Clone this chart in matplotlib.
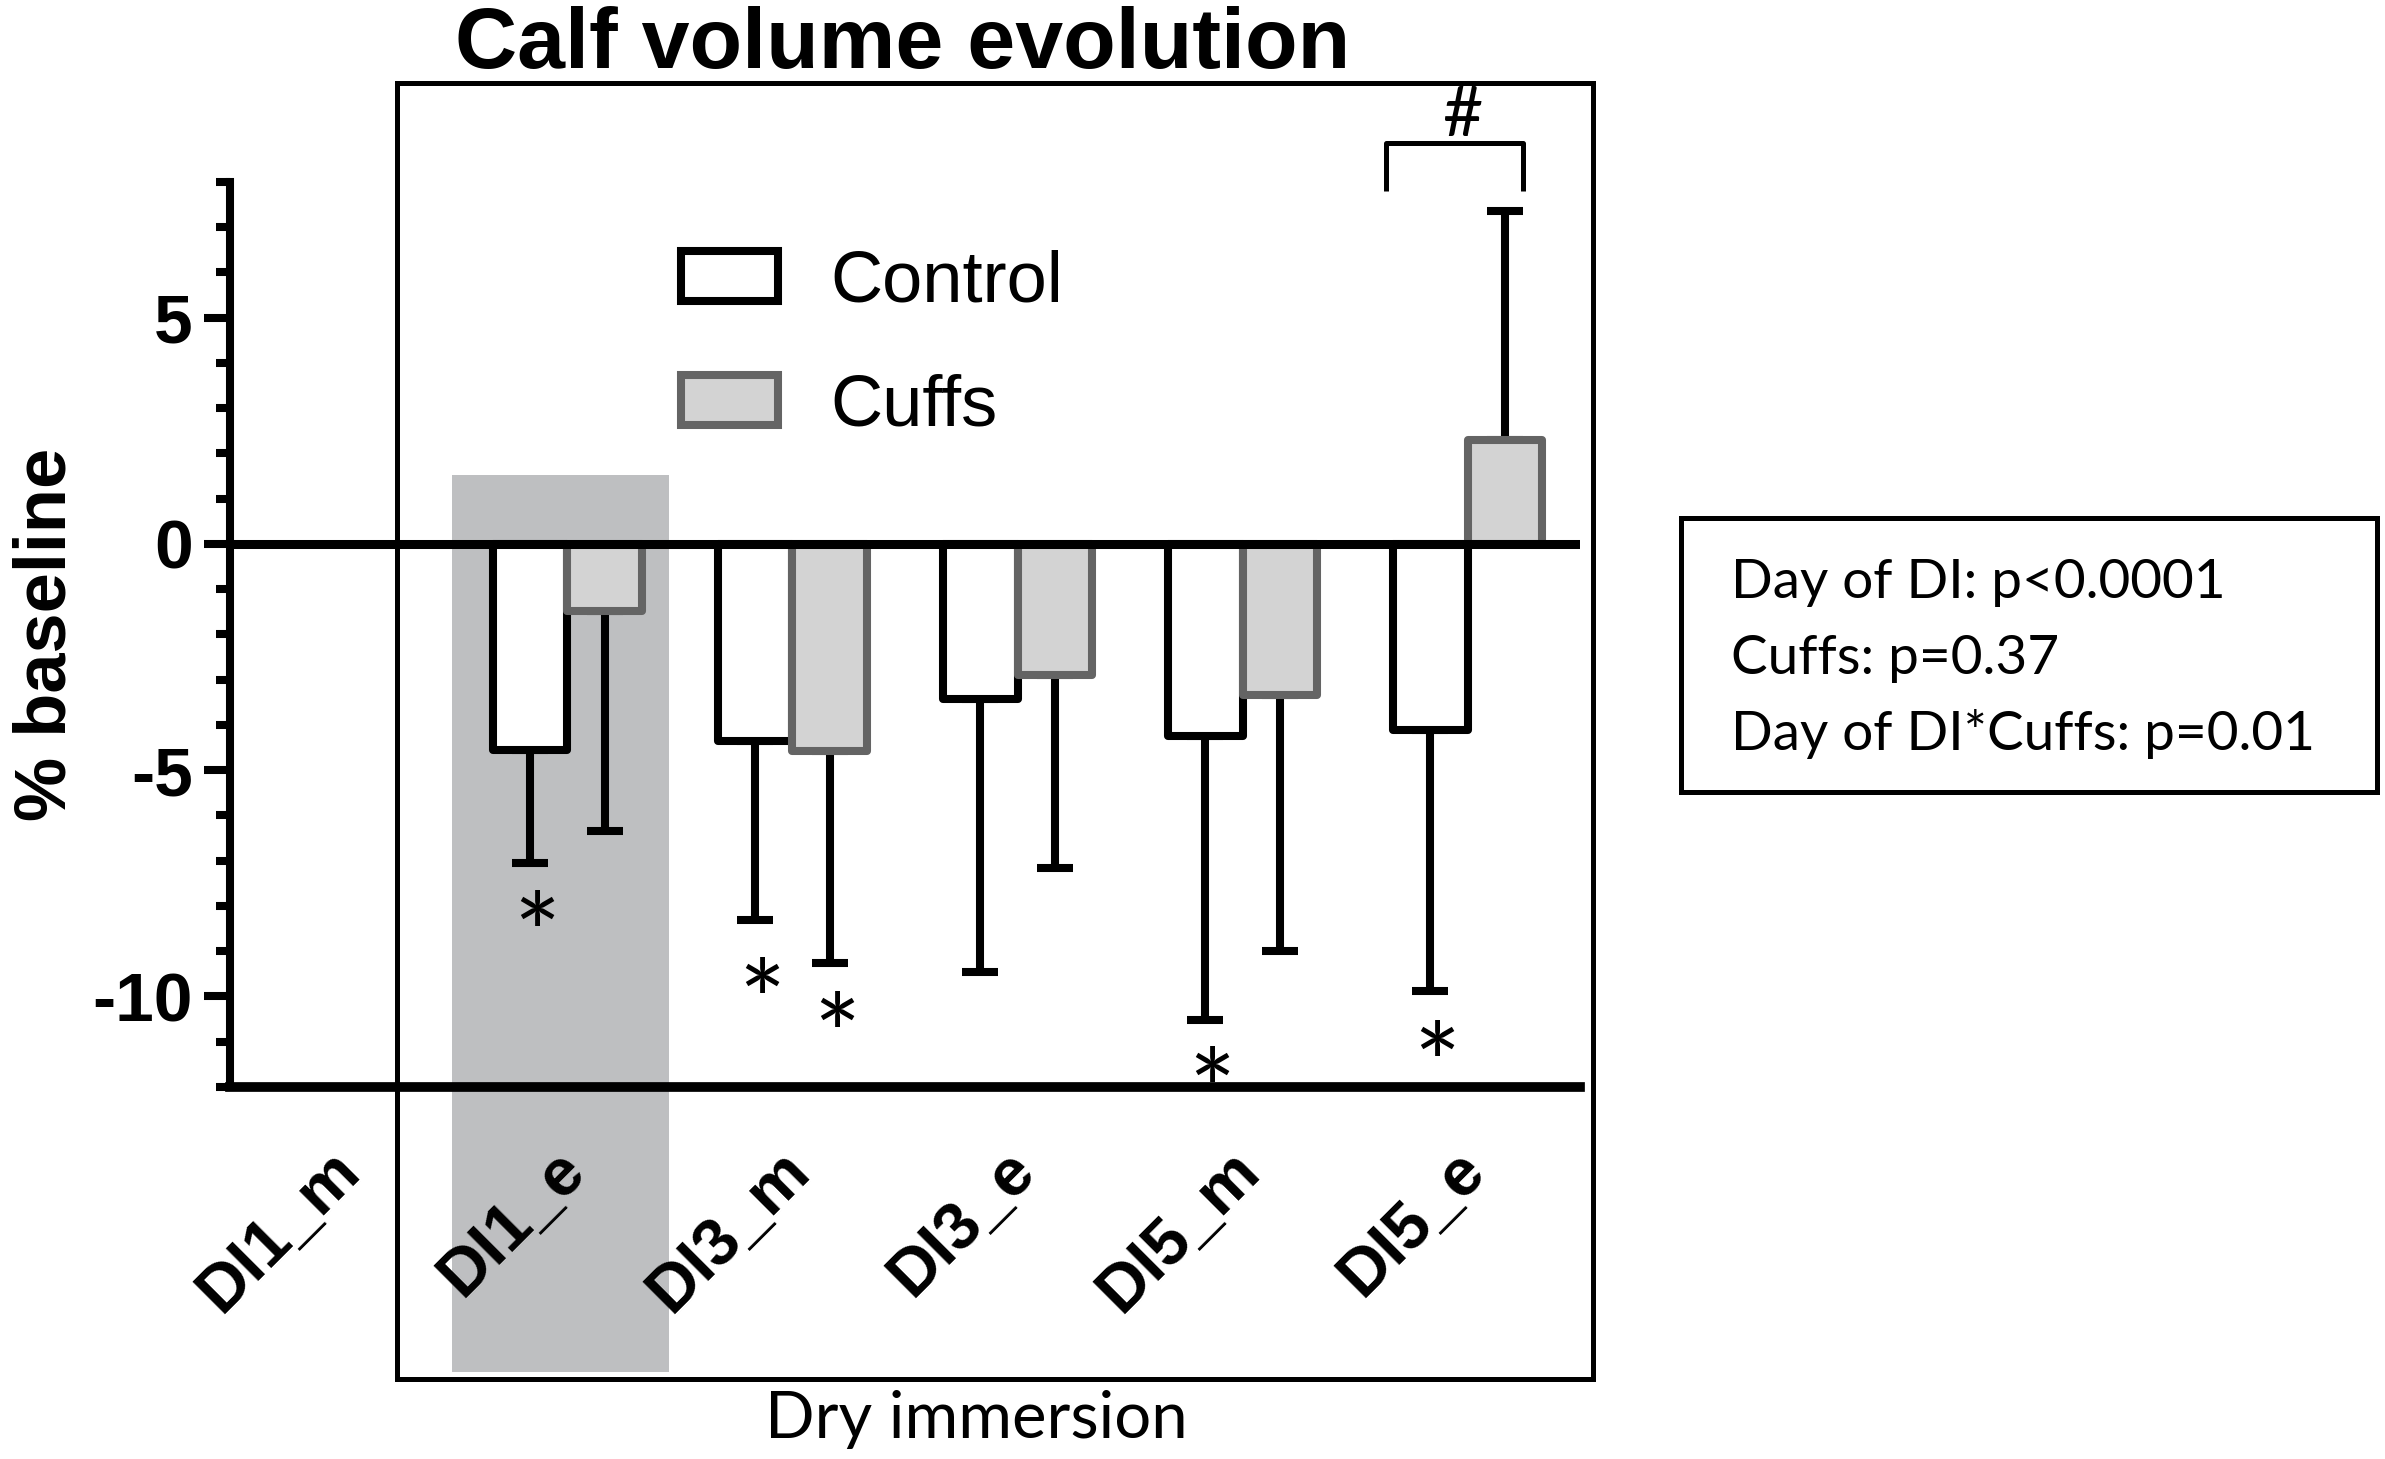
import matplotlib
matplotlib.use("Agg")
import matplotlib.pyplot as plt
import numpy as np
from matplotlib.patches import Rectangle
from matplotlib.ticker import MultipleLocator
from matplotlib.transforms import ScaledTranslation

# data (% of baseline, mean and SD)
days = ["DI1_m", "DI1_e", "DI3_m", "DI3_e", "DI5_m", "DI5_e"]
control_mean = [np.nan, -4.55, -4.35, -3.42, -4.24, -4.11]
control_sd = [np.nan, 2.49, 3.95, 6.04, 6.29, 5.76]
cuffs_mean = [np.nan, -1.49, -4.57, -2.89, -3.33, 2.30]
cuffs_sd = [np.nan, 4.86, 4.69, 4.28, 5.66, 5.05]

# "*" marks (vs baseline): which day, which group, and height of the mark
star_day = ["DI1_e", "DI3_m", "DI3_m", "DI5_m", "DI5_e"]
star_group = ["Control", "Control", "Cuffs", "Control", "Control"]
star_y = [-8.09, -9.57, -10.31, -11.52, -10.95]

stats_lines = ["Day of DI: p<0.0001", "Cuffs: p=0.37", "Day of DI*Cuffs: p=0.01"]

plt.rcParams["font.family"] = ["Liberation Sans", "DejaVu Sans"]
plt.rcParams["axes.unicode_minus"] = False

fig = plt.figure(figsize=(23.85, 14.59), dpi=100)
ax = fig.add_axes([0.0964, 0.2550, 0.5661, 0.6203])
ax.patch.set_visible(False)

# shaded DI1_e column and the "Dry immersion" frame (figure level)
fig.add_artist(Rectangle((0.1894, 0.0597), 0.0912, 0.6147, transform=fig.transFigure,
                         facecolor="#bebfc1", edgecolor="none", zorder=-2))
fig.add_artist(Rectangle((0.1665, 0.0548), 0.5014, 0.8883, transform=fig.transFigure,
                         facecolor="none", edgecolor="black", linewidth=3.6, zorder=-1))

x = np.arange(len(days))
w = 0.333
cm = np.array(control_mean)
qm = np.array(cuffs_mean)
cs = np.array(control_sd)
qs = np.array(cuffs_sd)

b_ctrl = ax.bar(x - w / 2, cm, w, color="white", edgecolor="black", linewidth=5.8,
                joinstyle="round", zorder=3, label="Control")
b_cuff = ax.bar(x + w / 2, qm, w, color="#d3d3d3", edgecolor="#646464", linewidth=5.8,
                joinstyle="round", zorder=3, label="Cuffs")

# one-sided SD bars, pointing away from zero
for xs, m, s in [(x - w / 2, cm, cs), (x + w / 2, qm, qs)]:
    lo = np.where(m < 0, s, 0)
    hi = np.where(m > 0, s, 0)
    ax.errorbar(xs, m, yerr=[lo, hi], fmt="none", ecolor="black", elinewidth=5.8,
                capsize=13.3, capthick=5.8, zorder=2)

ax.axhline(0, color="black", linewidth=6.5, zorder=4)

star_fs = 80
for d, g, y in zip(star_day, star_group, star_y):
    xi = days.index(d) + (-w / 2 if g == "Control" else w / 2) + 0.03
    ax.annotate("*", xy=(xi, y), xytext=(0, -0.58 * star_fs), textcoords="offset points",
                ha="center", va="baseline", fontsize=star_fs, family="Lato")

# bracket + "#" for the group difference at DI5_e
ax.plot([4.638, 4.638, 5.247, 5.247], [7.80, 8.87, 8.87, 7.80], color="black",
        linewidth=3.6, clip_on=False, solid_joinstyle="round", solid_capstyle="butt")
fig.text(0.613, 0.9068, "#", ha="center", va="baseline", fontsize=50, family="Lato")

ax.set_xlim(-0.5, 5.5)
ax.set_ylim(-12, 8)
ax.set_yticks([-10, -5, 0, 5])
ax.yaxis.set_minor_locator(MultipleLocator(1))
ax.tick_params(axis="y", which="major", length=18.7, width=5.8, labelsize=50, pad=8)
ax.tick_params(axis="y", which="minor", length=10, width=5.8)
for lab in ax.get_yticklabels():
    lab.set_fontweight("bold")

ax.set_xticks(x)
ax.set_xticklabels(days, rotation=45, ha="right", va="baseline", rotation_mode="anchor",
                   fontsize=48, fontweight="bold")
ax.tick_params(axis="x", length=0, pad=62)
for lab in ax.get_xticklabels():
    lab.set_transform(lab.get_transform() + ScaledTranslation(0.2, 0, fig.dpi_scale_trans))

for side in ["top", "right"]:
    ax.spines[side].set_visible(False)
ax.spines["left"].set_linewidth(5.8)
ax.spines["bottom"].set_linewidth(7)

ax.set_ylabel("% baseline", fontsize=52, fontweight="bold")
ax.yaxis.set_label_coords(-0.111, 0.5)

ax.legend([b_ctrl, b_cuff], ["Control", "Cuffs"], loc="upper left",
          bbox_to_anchor=(0.2855, 0.8293), bbox_transform=fig.transFigure,
          frameon=False, fontsize=52, handlelength=1.34, handleheight=0.68,
          handletextpad=0.73, labelspacing=0.79, borderpad=0, borderaxespad=0)

fig.text(0.3786, 0.9534, "Calf volume evolution", ha="center", va="baseline",
         fontsize=62, fontweight="bold")
fig.text(0.4092, 0.0144, "Dry immersion", ha="center", va="baseline", fontsize=47,
         family="Lato")

# stats box
fig.add_artist(Rectangle((0.7048, 0.4572), 0.2918, 0.1878, transform=fig.transFigure,
                         facecolor="none", edgecolor="black", linewidth=3.6))
for i, line in enumerate(stats_lines):
    fig.text(0.7258, 0.5901 - i * 0.0521, line, ha="left", va="baseline",
             fontsize=39.5, family="Lato")

fig.savefig("out.png", dpi=100)
